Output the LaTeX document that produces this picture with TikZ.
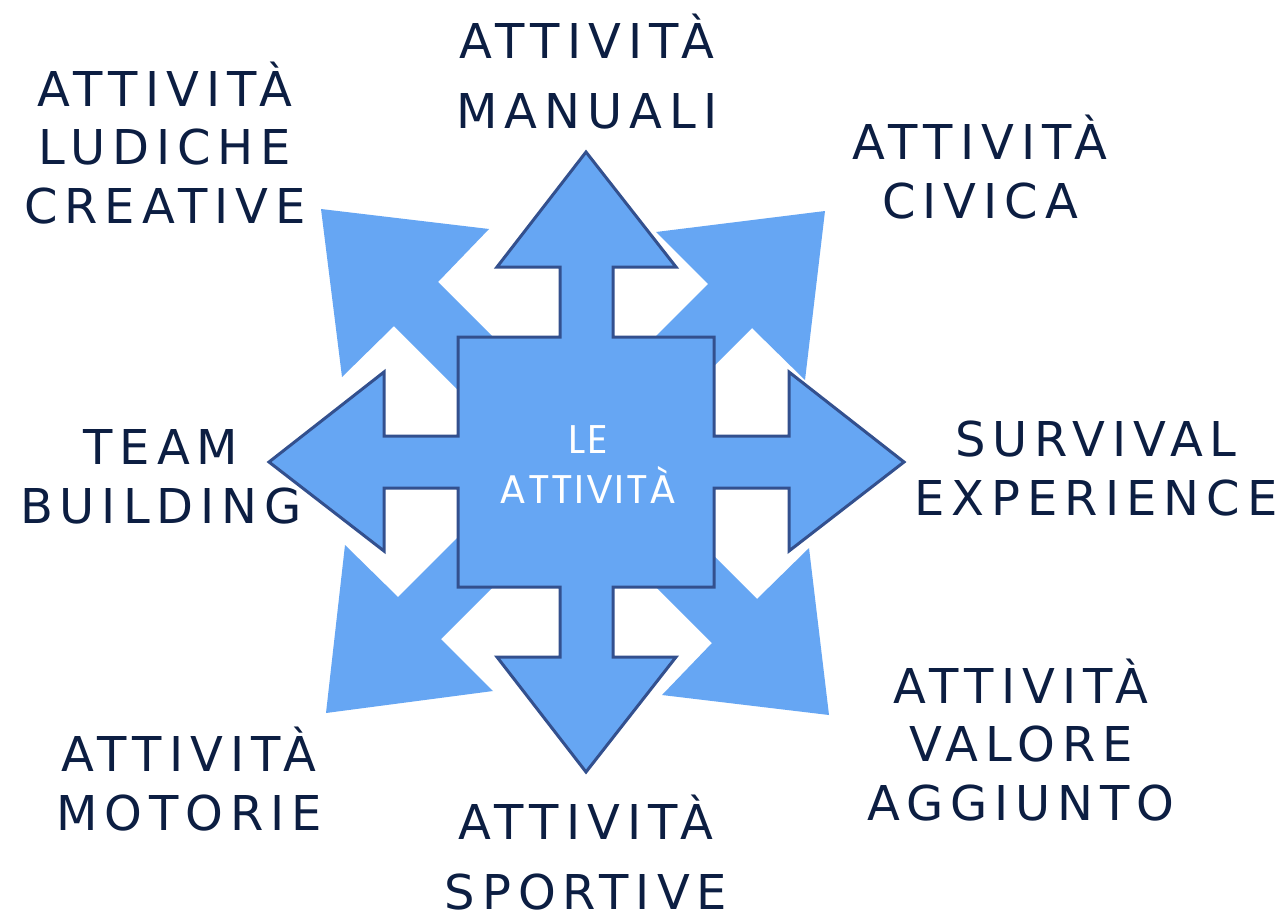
\documentclass[tikz,border=0pt]{standalone}
\usepackage{fontspec}
\setmainfont{DejaVu Sans}
\newfontfamily\labfont[LetterSpace=14.5]{DejaVu Sans}
\newfontfamily\cenfont[LetterSpace=4]{Poppins}
\definecolor{fillb}{HTML}{66A6F3}
\definecolor{edgeb}{HTML}{33508E}
\definecolor{navy}{HTML}{0C1E42}
\begin{document}
\begin{tikzpicture}[x=0.5pt,y=-0.5pt,
  lab/.style={align=center, text=navy, inner sep=0pt, anchor=base,
    font={\labfont\fontsize{24}{29.2}\selectfont}},
  labwide/.style={lab, font={\labfont\fontsize{24}{35}\selectfont}},
  diag/.style={fill=fillb, draw=none},
  quad/.style={fill=fillb, draw=edgeb, line width=1.5pt, line join=miter}]
\useasboundingbox[fill=white] (0,0) rectangle (1278,916);

% diagonal arrows (behind)
\path[diag] (596.5,440.5) -- (438,282) -- (489,229) -- (321,209) -- (342,377) -- (394,326) -- (552.5,484.5) -- cycle;
\path[diag] (552.5,439.5) -- (708,284) -- (656,232) -- (825,211) -- (805,380) -- (752,328) -- (596.5,483.5) -- cycle;
\path[diag] (597.5,439.5) -- (757,599) -- (809,548) -- (829,715) -- (662,695) -- (712,643) -- (553,484) -- cycle;
\path[diag] (554,441) -- (398,597) -- (345,545) -- (326,713) -- (493,691) -- (441,639) -- (596.5,483.5) -- cycle;

% quad arrow
\draw[quad] (586,152) -- (676,267) -- (613,267) -- (613,337) -- (714,337) -- (714,436)
  -- (789,436) -- (789,372) -- (904,462) -- (789,551) -- (789,488) -- (714,488)
  -- (714,587) -- (613,587) -- (613,657) -- (676,657) -- (586,772) -- (497,657)
  -- (560,657) -- (560,587) -- (458,587) -- (458,488) -- (384,488) -- (384,551)
  -- (269,462) -- (384,372) -- (384,436) -- (458,436) -- (458,337) -- (560,337)
  -- (560,267) -- (497,267) -- cycle;

\node[align=center, text=white, inner sep=0pt, anchor=base,
  font={\cenfont\fontsize{20}{25}\selectfont}] (center) at (588,503) {LE\\ATTIVITÀ};

\node[lab] (ludiche) at (165,223) {ATTIVITÀ\\LUDICHE\\CREATIVE};
\node[labwide] (manuali) at (587,128) {ATTIVITÀ\\MANUALI};
\node[lab] (civica) at (980,218) {ATTIVITÀ\\CIVICA};
\node[lab] (survival) at (1096,515) {SURVIVAL\\EXPERIENCE};
\node[lab] (team) at (161,523) {TEAM\\BUILDING};
\node[lab] (motorie) at (189,830) {ATTIVITÀ\\MOTORIE};
\node[labwide] (sportive) at (586,909) {ATTIVITÀ\\SPORTIVE};
\node[lab] (valore) at (1021,820) {ATTIVITÀ\\VALORE\\AGGIUNTO};
\end{tikzpicture}
\end{document}
